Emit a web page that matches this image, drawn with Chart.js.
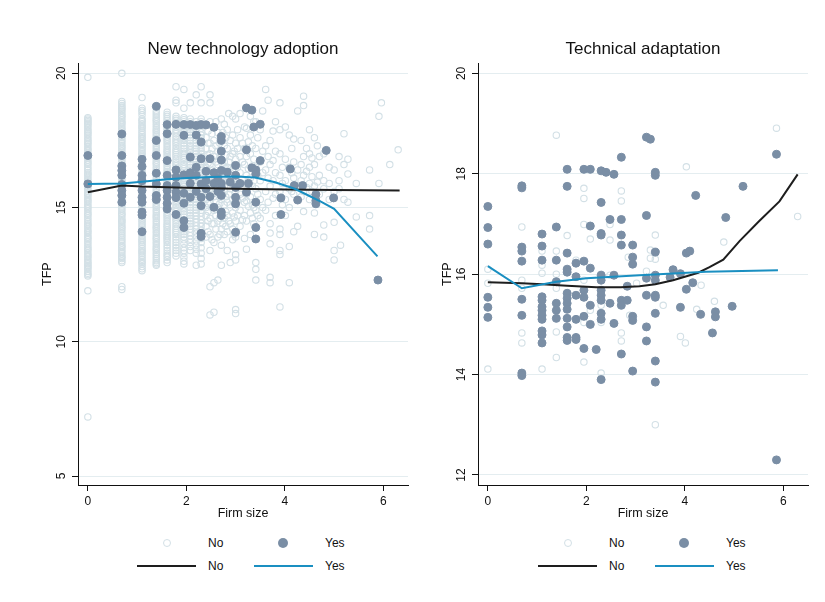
<!DOCTYPE html>
<html>
<head>
<meta charset="utf-8">
<script src="https://cdn.jsdelivr.net/npm/chart.js@4.4.1/dist/chart.umd.min.js"></script>
<style>
  body { margin: 0; background: #fff; font-family: "Liberation Sans", Arial, sans-serif; }
  #wrap { position: relative; width: 825px; height: 602px; }
  .panel { position: absolute; top: 0; width: 420px; height: 530px; }
  .lg { position: absolute; font-size: 12px; line-height: 16px; color: #111; }
  .dot { position: absolute; border-radius: 50%; box-sizing: border-box; }
  .hollow { width: 8px; height: 8px; border: 1px solid #d3e0e6; }
  .filled { width: 10px; height: 10px; background: #7a8ea5; }
  .ln { position: absolute; height: 2px; }
</style>
</head>
<body>
<div id="wrap">
  <canvas id="adopt" class="panel" style="left:0" width="420" height="530"></canvas>
  <canvas id="adapt" class="panel" style="left:400px" width="420" height="530"></canvas>
  <div id="legends"></div>
</div>
<script>
// axis ticks
const sizeTicks = [0, 2, 4, 6];
const adoptTfpTicks = [5, 10, 15, 20];
const adaptTfpTicks = [12, 14, 16, 18, 20];

// New technology adoption: firms by log size, [size, [TFP...]]
const adoptNo = [
  [0, [19.85, 18.35, 18.25, 18.15, 18.05, 17.9, 17.8, 17.7, 17.55, 17.45, 17.35, 17.2, 17.1, 16.95, 16.85, 16.7, 16.6, 16.45, 16.3, 16.2, 16.05, 15.95, 15.8, 15.7, 15.55, 15.45, 15.3, 15.2, 15.05, 14.95, 14.8, 14.7, 14.55, 14.4, 14.3, 14.15, 14.05, 13.9, 13.8, 13.65, 13.5, 13.4, 13.25, 13.15, 13.0, 12.9, 12.8, 12.7, 12.55, 12.45, 11.9, 7.2]],
  [0, [18.3, 18.2, 18.1, 17.97, 17.85, 17.75, 17.62, 17.5, 17.4, 17.27, 17.15, 17.02, 16.9, 16.77, 16.65, 16.52, 16.38, 16.25, 16.12, 16.0, 15.87, 15.75, 15.62, 15.5, 15.37, 15.25, 15.12, 15.0, 14.87, 14.75, 14.62, 14.47, 14.35, 14.22, 14.1, 13.97, 13.85, 13.72, 13.57, 13.45, 13.32, 13.2, 13.07, 12.95, 12.85, 12.75, 12.62, 12.5]],
  [0.69, [20.0, 18.95, 18.8, 18.7, 18.6, 18.45, 18.35, 18.2, 18.1, 17.95, 17.85, 17.7, 17.6, 17.45, 17.3, 17.2, 17.05, 16.9, 16.8, 16.65, 16.5, 16.4, 16.25, 16.15, 16.0, 15.9, 15.75, 15.6, 15.5, 15.35, 15.2, 15.1, 14.95, 14.8, 14.7, 14.55, 14.45, 14.3, 14.2, 14.05, 13.9, 13.75, 13.6, 13.5, 13.35, 13.2, 13.1, 12.95, 12.05, 11.95]],
  [0.69, [18.88, 18.75, 18.65, 18.52, 18.4, 18.27, 18.15, 18.02, 17.9, 17.77, 17.65, 17.52, 17.38, 17.25, 17.12, 16.97, 16.85, 16.72, 16.58, 16.45, 16.32, 16.2, 16.07, 15.95, 15.82, 15.68, 15.55, 15.42, 15.28, 15.15, 15.02, 14.88, 14.75, 14.62, 14.5, 14.38, 14.25, 14.12, 13.97, 13.82, 13.68, 13.55, 13.42, 13.28, 13.15, 13.02]],
  [1.10, [19.1, 18.7, 18.55, 18.3, 18.2, 18.05, 17.95, 17.8, 17.65, 17.55, 17.4, 17.3, 17.15, 17.0, 16.9, 16.75, 16.6, 16.5, 16.35, 16.2, 16.1, 15.95, 15.85, 15.7, 15.55, 15.4, 15.3, 15.15, 15.05, 14.9, 14.75, 14.6, 14.5, 14.35, 14.2, 14.1, 13.95, 13.8, 13.7, 13.55, 13.4, 13.3, 13.15, 13.0, 12.9, 12.8, 12.65]],
  [1.10, [18.62, 18.45, 18.25, 18.12, 18.0, 17.87, 17.72, 17.6, 17.47, 17.35, 17.22, 17.07, 16.95, 16.82, 16.68, 16.55, 16.42, 16.28, 16.15, 16.02, 15.9, 15.77, 15.62, 15.47, 15.35, 15.22, 15.1, 14.97, 14.82, 14.68, 14.55, 14.42, 14.28, 14.15, 14.02, 13.87, 13.75, 13.62, 13.47, 13.35, 13.22, 13.07, 12.95, 12.72]],
  [1.39, [18.6, 18.45, 18.3, 18.2, 18.05, 17.9, 17.8, 17.65, 17.5, 17.4, 17.25, 17.1, 17.0, 16.85, 16.7, 16.6, 16.45, 16.3, 16.2, 16.05, 15.9, 15.8, 15.65, 15.5, 15.4, 15.25, 15.1, 15.0, 14.85, 14.7, 14.6, 14.45, 14.3, 14.2, 14.05, 13.9, 13.8, 13.65, 13.5, 13.4, 13.25, 13.1, 12.95, 12.85]],
  [1.39, [18.52, 18.37, 18.25, 18.12, 17.97, 17.85, 17.72, 17.57, 17.45, 17.32, 17.17, 17.05, 16.92, 16.77, 16.65, 16.52, 16.37, 16.25, 16.12, 15.97, 15.85, 15.72, 15.57, 15.45, 15.32, 15.17, 15.05, 14.92, 14.77, 14.65, 14.52, 14.37, 14.25, 14.12, 13.97, 13.85, 13.72, 13.57, 13.45, 13.32, 13.17, 13.02, 12.9]],
  [1.61, [18.55, 18.4, 18.25, 18.1, 17.95, 17.85, 17.7, 17.55, 17.45, 17.3, 17.15, 17.05, 16.9, 16.75, 16.65, 16.5, 16.35, 16.25, 16.1, 15.95, 15.85, 15.7, 15.55, 15.45, 15.3, 15.15, 15.05, 14.9, 14.75, 14.65, 14.5, 14.35, 14.25, 14.1, 13.95, 13.85, 13.7, 13.5, 13.3, 13.15, 12.95]],
  [1.61, [18.47, 18.32, 18.17, 18.02, 17.9, 17.77, 17.62, 17.5, 17.37, 17.22, 17.1, 16.97, 16.82, 16.7, 16.57, 16.42, 16.3, 16.17, 16.02, 15.9, 15.77, 15.62, 15.5, 15.37, 15.22, 15.1, 14.97, 14.82, 14.7, 14.57, 14.42, 14.3, 14.17, 14.02, 13.9, 13.77, 13.6, 13.4, 13.22, 13.05]],
  [1.79, [19.5, 19.0, 18.9, 18.4, 18.25, 18.1, 17.9, 17.75, 17.55, 17.4, 17.2, 17.05, 16.9, 16.7, 16.55, 16.4, 16.2, 16.05, 15.9, 15.7, 15.55, 15.35, 15.2, 15.0, 14.85, 14.65, 14.5, 14.3, 14.15, 14.0, 13.8, 13.6, 13.4, 13.2]],
  [1.79, [18.32, 18.17, 18.0, 17.82, 17.65, 17.47, 17.3, 17.12, 16.97, 16.8, 16.62, 16.47, 16.3, 16.12, 15.97, 15.8, 15.62, 15.45, 15.27, 15.1, 14.92, 14.75, 14.57, 14.4, 14.22, 14.07, 13.9, 13.7, 13.5, 13.3]],
  [1.95, [19.4, 18.7, 18.35, 18.2, 18.0, 17.8, 17.65, 17.5, 17.3, 17.1, 16.95, 16.8, 16.6, 16.45, 16.3, 16.1, 15.95, 15.8, 15.6, 15.45, 15.3, 15.1, 14.95, 14.75, 14.55, 14.35, 14.2, 14.0, 13.8, 13.5, 13.3, 13.0, 12.9]],
  [1.95, [18.27, 18.1, 17.9, 17.72, 17.57, 17.4, 17.2, 17.02, 16.87, 16.7, 16.52, 16.37, 16.2, 16.02, 15.87, 15.7, 15.52, 15.37, 15.2, 15.02, 14.85, 14.65, 14.45, 14.27, 14.1, 13.9, 13.65, 13.4, 13.15]],
  [2.08, [18.9, 18.3, 18.1, 17.9, 17.7, 17.5, 17.3, 17.15, 16.95, 16.8, 16.6, 16.4, 16.25, 16.1, 15.9, 15.75, 15.55, 15.4, 15.2, 15.0, 14.8, 14.6, 14.4, 14.2, 13.95, 13.7, 13.4]],
  [2.08, [18.2, 18.0, 17.8, 17.6, 17.4, 17.22, 17.05, 16.87, 16.7, 16.5, 16.32, 16.17, 16.0, 15.82, 15.65, 15.47, 15.3, 15.1, 14.9, 14.7, 14.5, 14.3, 14.07, 13.82, 13.55]],
  [2.20, [19.2, 18.2, 17.95, 17.7, 17.5, 17.3, 17.1, 16.9, 16.7, 16.5, 16.3, 16.1, 15.9, 15.7, 15.5, 15.3, 15.1, 14.9, 14.7, 14.45, 14.2, 13.9, 13.6, 13.3, 12.85]],
  [2.20, [18.07, 17.82, 17.6, 17.4, 17.2, 17.0, 16.8, 16.6, 16.4, 16.2, 16.0, 15.8, 15.6, 15.4, 15.2, 15.0, 14.8, 14.57, 14.32, 14.05, 13.75, 13.45]],
  [2.30, [19.5, 18.9, 18.3, 18.1, 17.8, 17.6, 17.4, 17.2, 17.0, 16.8, 16.6, 16.4, 16.2, 16.0, 15.8, 15.6, 15.4, 15.2, 15.0, 14.8, 14.55, 14.3, 14.0, 13.7, 13.3, 12.9]],
  [2.30, [18.2, 17.95, 17.7, 17.5, 17.3, 17.1, 16.9, 16.7, 16.5, 16.3, 16.1, 15.9, 15.7, 15.5, 15.3, 15.1, 14.9, 14.67, 14.42, 14.15, 13.85, 13.5, 13.1]],
  [2.40, [18.1, 17.6, 17.2, 16.8, 16.5, 16.2, 15.9, 15.6, 15.3, 15.0, 14.7, 14.3, 13.9]],
  [2.44, [17.85, 17.4, 16.95, 16.65, 16.35, 16.05, 15.75, 15.45, 15.15, 14.85, 14.5, 14.1]],
  [2.48, [19.2, 18.9, 18.2, 17.4, 17.0, 16.6, 16.1, 15.7, 15.2, 14.6, 14.0, 13.4, 12.05, 11.0]],
  [2.52, [17.75, 17.2, 16.8, 16.4, 15.95, 15.5, 15.0, 14.4, 13.8]],
  [2.56, [18.0, 17.5, 16.9, 16.3, 15.8, 15.4, 14.9, 14.4, 13.7, 12.2, 11.1]],
  [2.60, [18.2, 17.3, 16.7, 16.1, 15.6, 15.2, 14.7, 14.2]],
  [2.64, [17.8, 17.1, 16.6, 16.0, 15.5, 15.0, 14.5, 13.9, 12.3]],
  [2.68, [17.4, 16.85, 16.25, 15.75, 15.15, 14.6, 14.0]],
  [2.71, [18.3, 17.6, 17.0, 16.4, 15.9, 15.3, 14.8, 14.2, 13.6, 12.85]],
  [2.74, [17.8, 16.55, 15.5, 14.4]],
  [2.77, [18.1, 17.3, 16.7, 16.2, 15.6, 15.1, 14.6, 14.0]],
  [2.80, [17.6, 16.95, 16.45, 15.95, 15.4, 14.85, 14.3]],
  [2.83, [17.9, 17.2, 16.5, 15.8, 15.2, 14.7, 14.1, 13.4]],
  [2.86, [18.5, 16.7, 16.0, 15.5, 14.5]],
  [2.89, [17.5, 16.9, 16.3, 15.7, 15.1, 14.4, 12.95]],
  [2.94, [18.4, 17.7, 17.0, 16.4, 15.9, 15.3, 14.8, 14.2, 13.8]],
  [2.97, [17.1, 16.55, 15.8, 15.15, 14.65, 14.0]],
  [3.00, [18.3, 17.4, 16.8, 16.1, 15.6, 15.0, 14.5, 13.9, 13.25, 13.05, 11.2, 11.05]],
  [3.04, [17.9, 17.2, 16.5, 15.85, 15.25, 14.7]],
  [3.09, [18.5, 17.6, 16.9, 16.3, 15.5, 14.9, 14.3]],
  [3.14, [17.4, 16.7, 16.05, 15.35, 14.55]],
  [3.18, [18.0, 17.2, 16.6, 15.9, 15.2, 14.7, 13.85]],
  [3.22, [17.95, 16.9, 16.2, 15.5, 15.25, 14.5, 13.45]],
  [3.26, [17.45, 16.45, 15.75, 15.05]],
  [3.30, [18.4, 17.7, 17.0, 16.1, 15.4, 14.8, 14.0]],
  [3.34, [17.3, 16.55, 15.8, 15.1, 14.6]],
  [3.37, [18.2, 16.8, 16.0, 15.0, 14.4]],
  [3.41, [18.2, 17.2, 16.5, 15.7, 14.9, 12.95, 12.7, 12.3]],
  [3.45, [17.6, 16.2, 15.5, 14.7]],
  [3.50, [17.9, 16.7, 16.0, 15.3, 14.6]],
  [3.55, [18.6, 17.1, 16.3, 15.0]],
  [3.61, [19.4, 17.3, 16.4, 15.6, 14.9]],
  [3.66, [19.0, 16.9, 16.1, 15.2]],
  [3.70, [17.5, 16.6, 15.8, 14.4, 14.05, 13.65, 12.4, 12.2]],
  [3.76, [17.85, 16.75, 16.0, 15.35]],
  [3.81, [18.2, 17.1, 16.3, 15.5, 14.7]],
  [3.90, [18.9, 17.9, 17.0, 16.2, 15.6, 14.2, 14.0, 13.4, 13.25, 11.3]],
  [3.95, [16.5, 15.9, 15.1]],
  [4.01, [18.0, 16.8, 16.0, 15.3, 14.7]],
  [4.09, [17.7, 16.5, 15.7, 15.0, 13.55, 12.2]],
  [4.14, [17.2, 16.3, 15.6]],
  [4.18, [17.55, 16.7, 16.1, 15.5, 14.1]],
  [4.26, [18.6, 16.4, 15.8, 14.3]],
  [4.33, [17.5, 16.6, 16.0, 15.4]],
  [4.38, [19.15, 18.8, 16.9, 16.2, 15.6, 14.85]],
  [4.44, [17.2, 16.35, 15.75]],
  [4.50, [17.9, 17.0, 16.5, 15.9, 15.3]],
  [4.55, [16.85, 16.15, 15.6]],
  [4.60, [17.6, 16.6, 15.8, 14.8, 14.0]],
  [4.66, [17.3, 15.95]],
  [4.70, [16.9, 16.2, 15.5]],
  [4.79, [17.0, 16.0, 15.7, 14.35, 13.9]],
  [4.90, [16.5, 15.9, 15.3]],
  [5.00, [16.4, 15.6, 14.45, 13.4, 13.05]],
  [5.10, [16.9, 16.0, 15.7]],
  [5.13, [13.6]],
  [5.20, [17.75, 16.6, 15.3]],
  [5.28, [16.8, 16.25, 15.2]],
  [5.45, [15.9, 14.65]],
  [5.72, [16.4, 14.7, 14.2]],
  [5.91, [18.4, 15.9]],
  [5.96, [18.9]],
  [6.13, [16.6]],
  [6.30, [17.15]]
];
const adoptYes = [
  [0, [16.94, 15.88]],
  [0.69, [17.74, 16.94, 16.55, 16.38, 16.2, 15.86, 15.64, 15.45, 15.2]],
  [1.10, [16.8, 16.53, 16.2, 16.0, 15.64, 15.38, 15.2, 14.83, 14.72, 14.1]],
  [1.39, [18.77, 17.5, 16.94, 16.28, 15.88, 15.45, 15.3]],
  [1.61, [18.09, 17.75, 16.75, 16.2, 15.82, 15.64, 15.38, 15.15, 14.95]],
  [1.79, [18.1, 16.4, 16.13, 15.82, 15.57, 15.37, 14.74]],
  [1.95, [18.09, 17.69, 16.22, 15.53, 15.16, 14.51, 14.26]],
  [2.08, [18.09, 16.88, 16.3, 16.2, 15.9, 15.38]],
  [2.20, [18.06, 17.7, 16.5, 16.2, 15.6]],
  [2.30, [18.09, 17.44, 16.82, 15.88, 15.38, 15.07, 14.04, 13.92]],
  [2.40, [18.08, 16.35, 16.0, 15.7]],
  [2.48, [16.82, 15.41]],
  [2.56, [17.99, 16.3, 15.9, 15.01]],
  [2.64, [16.1, 15.6]],
  [2.71, [17.65, 17.5, 17.1, 16.77, 16.38, 15.9, 15.75, 15.45, 14.83, 14.7]],
  [2.83, [16.32]],
  [2.89, [15.95]],
  [3.00, [16.57, 16.2, 15.75, 15.38, 15.14, 14.08]],
  [3.09, [15.9]],
  [3.22, [18.71, 17.15, 15.57]],
  [3.26, [15.9]],
  [3.33, [18.63, 16.48]],
  [3.37, [18.0]],
  [3.41, [16.4, 16.25, 15.2, 14.26, 13.83]],
  [3.50, [18.1, 16.75]],
  [3.92, [15.36, 14.74]],
  [4.11, [16.44]],
  [4.19, [15.82]],
  [4.26, [15.28]],
  [4.36, [15.82]],
  [4.63, [15.49, 15.26, 15.14]],
  [4.84, [17.13]],
  [4.99, [15.36]],
  [5.89, [12.3]]
];
const adoptFitNoX = [0, 0.69, 1.10, 1.61, 2, 3, 4, 5, 6.33];
const adoptFitNoY = [15.57, 15.82, 15.78, 15.76, 15.74, 15.7, 15.67, 15.65, 15.64];
const adoptFitYesX = [0, 0.69, 1.10, 1.61, 2, 2.5, 3, 3.4, 3.8, 4.2, 4.5, 4.75, 5, 5.88];
const adoptFitYesY = [15.88, 15.9, 15.96, 16.05, 16.1, 16.14, 16.16, 16.12, 15.94, 15.7, 15.43, 15.2, 14.95, 13.18];

// Technical adaptation
const adaptNo = [
  [0, [16.1, 15.82, 14.11]],
  [0.69, [16.94, 15.88, 15.72, 14.83, 14.63]],
  [1.10, [16.46, 16.28, 16.18, 16.02, 14.11]],
  [1.39, [18.77, 16.46, 16.0, 15.72, 14.85, 14.34]],
  [1.61, [16.77, 15.62]],
  [1.79, [16.28]],
  [1.95, [17.71, 17.51, 16.99, 15.88, 15.04, 14.25]],
  [2.08, [16.7, 15.28]],
  [2.30, [16.0, 15.38, 15.04, 14.03]],
  [2.48, [16.99, 16.68, 15.98]],
  [2.71, [17.66, 17.46, 14.83, 14.67]],
  [2.85, [16.34]],
  [2.88, [15.18]],
  [3.02, [15.82]],
  [3.22, [16.06]],
  [3.30, [16.48, 16.32]],
  [3.40, [16.78, 16.3, 13.0]],
  [3.56, [15.38]],
  [3.91, [14.76]],
  [4.01, [14.63]],
  [4.03, [18.14]],
  [4.24, [15.3]],
  [4.33, [15.78]],
  [4.60, [15.46]],
  [4.79, [16.64]],
  [5.86, [18.91]],
  [6.29, [17.15]]
];
const adaptYes = [
  [0, [17.35, 16.93, 16.6, 15.54, 15.34, 15.14]],
  [0.69, [17.76, 17.72, 16.54, 16.46, 16.26, 15.5, 15.18, 14.03, 13.98]],
  [1.10, [16.8, 16.56, 16.28, 15.55, 15.48, 15.35, 15.28, 15.18, 15.1, 14.87, 14.79, 14.63]],
  [1.39, [16.94, 16.28, 15.85, 15.42, 15.28, 15.12]],
  [1.61, [18.09, 17.75, 16.42, 16.1, 16.04, 15.62, 15.52, 15.42, 15.3, 15.12, 14.95, 14.74, 14.68]],
  [1.79, [16.22, 15.95, 15.58, 15.1, 14.74, 14.7]],
  [1.95, [18.09, 16.26, 15.68, 15.54, 15.16, 14.52]],
  [2.08, [18.09, 16.96, 16.12, 15.38, 15.0]],
  [2.20, [14.5]],
  [2.30, [18.06, 17.43, 16.81, 16.78, 15.98, 15.88, 15.68, 15.58, 15.48, 15.22, 15.1, 13.9]],
  [2.40, [18.03]],
  [2.48, [17.09, 15.42]],
  [2.56, [17.99, 15.98, 15.02]],
  [2.71, [18.33, 17.09, 16.78, 16.58, 15.48, 15.38, 14.41]],
  [2.83, [15.76, 15.48]],
  [2.94, [16.58, 16.34, 16.2, 15.16, 15.08, 14.07]],
  [3.22, [18.73, 17.17, 15.92, 15.58, 14.95, 14.67]],
  [3.30, [18.69]],
  [3.40, [17.97, 18.03, 16.44, 15.98, 15.88, 15.58, 15.54, 15.22, 14.27, 13.85]],
  [3.70, [15.94]],
  [3.76, [16.09]],
  [3.91, [16.01, 15.34]],
  [4.03, [16.42, 15.7]],
  [4.10, [16.46]],
  [4.16, [15.83]],
  [4.22, [17.57]],
  [4.32, [15.2]],
  [4.56, [14.83]],
  [4.62, [15.25, 15.15]],
  [4.83, [17.13]],
  [4.96, [15.36]],
  [5.18, [17.75]],
  [5.86, [18.39, 12.3]]
];
const adaptFitNoX = [0, 0.69, 1.10, 1.61, 2.2, 2.7, 3.08, 3.4, 3.76, 4.0, 4.27, 4.5, 4.78, 5.11, 5.5, 5.92, 6.29];
const adaptFitNoY = [15.84, 15.82, 15.8, 15.77, 15.74, 15.74, 15.76, 15.8, 15.88, 15.95, 16.03, 16.14, 16.29, 16.66, 17.05, 17.45, 17.99];
const adaptFitYesX = [0, 0.69, 1.39, 2, 3.08, 4.43, 5.89];
const adaptFitYesY = [16.16, 15.72, 15.85, 15.92, 15.98, 16.05, 16.08];

const colNo = '#d3e0e6';
const colYes = '#7a8ea5';
const colLineNo = '#1e1e1e';
const colLineYes = '#1a8fc1';

const toPoints = cols => cols.flatMap(([x, ys]) => ys.map(y => ({ x: x, y: y })));
const toLine = (xs, ys) => xs.map((x, i) => ({ x: x, y: ys[i] }));

function makePanel(id, title, yMin, yMax, yTicks, noCols, yesCols, fitNo, fitYes) {
  const ctx = document.getElementById(id).getContext('2d');
  return new Chart(ctx, {
    type: 'scatter',
    data: {
      datasets: [
        { type: 'line', data: fitYes, borderColor: colLineYes, borderWidth: 2, pointRadius: 0, fill: false, order: 1 },
        { type: 'line', data: fitNo, borderColor: colLineNo, borderWidth: 2, pointRadius: 0, fill: false, order: 2 },
        { data: toPoints(yesCols), pointRadius: 4, borderWidth: 1, backgroundColor: colYes, borderColor: colYes, order: 3 },
        { data: toPoints(noCols), pointRadius: 3.2, borderWidth: 1.1, backgroundColor: 'rgba(0,0,0,0)', borderColor: colNo, order: 4 }
      ]
    },
    options: {
      responsive: false,
      animation: false,
      devicePixelRatio: 1,
      layout: { padding: { left: 0, right: 12, top: 0, bottom: 0 } },
      plugins: {
        legend: { display: false },
        tooltip: { enabled: false },
        title: {
          display: true, text: title, color: '#111', fullSize: false,
          font: { family: 'Liberation Sans', size: 17, weight: 'normal' },
          padding: { top: 39, bottom: 4 }
        }
      },
      scales: {
        x: {
          type: 'linear', min: -0.2, max: 6.5,
          afterBuildTicks: s => { s.ticks = sizeTicks.map(v => ({ value: v })); },
          afterFit: s => { s.height = 45; },
          grid: { drawOnChartArea: false, tickLength: 6, tickColor: '#111' },
          border: { color: '#111', width: 1 },
          ticks: { color: '#111', padding: 3, maxRotation: 0, font: { family: 'Liberation Sans', size: 12 } },
          title: { display: true, text: 'Firm size', color: '#111', font: { family: 'Liberation Sans', size: 12.5 }, padding: { top: 0, bottom: 9 } }
        },
        y: {
          type: 'linear', min: yMin, max: yMax,
          afterBuildTicks: s => { s.ticks = yTicks.map(v => ({ value: v })); },
          afterFit: s => { s.width = 78; },
          grid: { color: '#e4edf0', lineWidth: 1, tickLength: 6, tickColor: '#111' },
          border: { color: '#111', width: 1 },
          ticks: { color: '#111', padding: 4, minRotation: 90, maxRotation: 90, crossAlign: 'center', font: { family: 'Liberation Sans', size: 12 } },
          title: { display: true, text: 'TFP', color: '#111', font: { family: 'Liberation Sans', size: 12.5 }, padding: { top: 40, bottom: 0 } }
        }
      }
    }
  });
}

makePanel('adopt', 'New technology adoption', 4.665, 20.37, adoptTfpTicks,
  adoptNo, adoptYes, toLine(adoptFitNoX, adoptFitNoY), toLine(adoptFitYesX, adoptFitYesY));
makePanel('adapt', 'Technical adaptation', 11.8, 20.2, adaptTfpTicks,
  adaptNo, adaptYes, toLine(adaptFitNoX, adaptFitNoY), toLine(adaptFitYesX, adaptFitYesY));

// legend under each panel: markers row, then fitted lines row
function addLegend(offset) {
  const box = document.getElementById('legends');
  const add = (cls, css, text) => {
    const el = document.createElement('div');
    el.className = cls;
    el.style.cssText = css;
    if (text) el.textContent = text;
    box.appendChild(el);
  };
  add('dot hollow', `left:${offset + 163}px;top:539px`);
  add('lg', `left:${offset + 208}px;top:535px`, 'No');
  add('dot filled', `left:${offset + 278}px;top:538px`);
  add('lg', `left:${offset + 325}px;top:535px`, 'Yes');
  add('ln', `left:${offset + 137}px;top:565px;width:59px;background:${colLineNo}`);
  add('lg', `left:${offset + 208}px;top:558px`, 'No');
  add('ln', `left:${offset + 254}px;top:565px;width:59px;background:${colLineYes}`);
  add('lg', `left:${offset + 325}px;top:558px`, 'Yes');
}
addLegend(0);
addLegend(401);
</script>
</body>
</html>
